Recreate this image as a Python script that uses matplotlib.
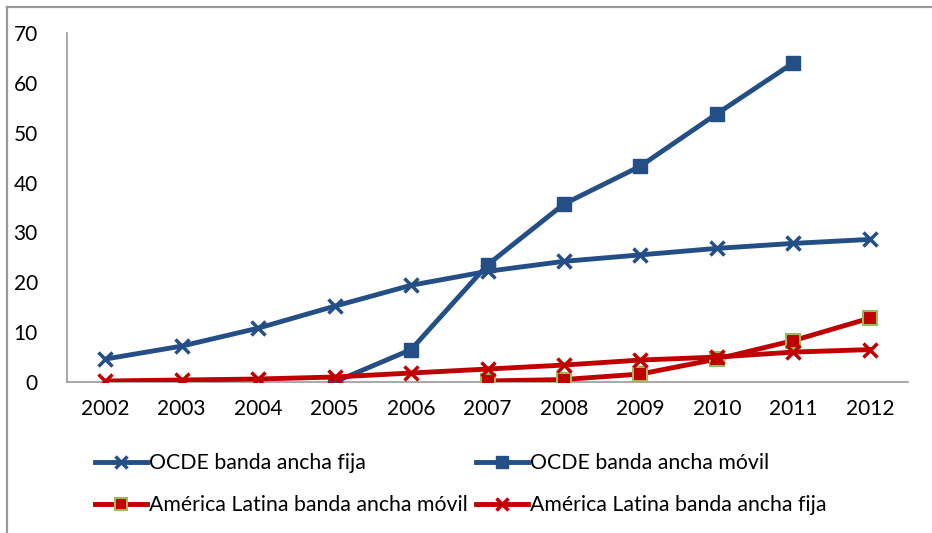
import matplotlib
matplotlib.use("Agg")
import matplotlib.pyplot as plt
from matplotlib.lines import Line2D
import numpy as np

years = [2002, 2003, 2004, 2005, 2006, 2007, 2008, 2009, 2010, 2011, 2012]
ocde_fija = [4.6, 7.2, 10.8, 15.2, 19.4, 22.2, 24.2, 25.5, 26.8, 27.8, 28.6]
ocde_movil_years = [2005, 2006, 2007, 2008, 2009, 2010, 2011]
ocde_movil = [0.0, 6.5, 23.5, 35.7, 43.3, 53.8, 64.0]
al_movil_years = [2007, 2008, 2009, 2010, 2011, 2012]
al_movil = [0.2, 0.5, 1.6, 4.6, 8.3, 12.8]
al_fija = [0.2, 0.4, 0.6, 1.0, 1.8, 2.6, 3.4, 4.4, 5.0, 6.0, 6.5]
yticks = [0, 10, 20, 30, 40, 50, 60, 70]

blue = "#234E86"
red = "#C00000"
green = "#9BBB59"

plt.rcParams['font.family'] = ['Lato', 'DejaVu Sans']

W, H = 932, 533
fig = plt.figure(figsize=(W/100, H/100), dpi=100)
ax = fig.add_axes([67/W, 1-382/H, (908-67)/W, (382-33)/H])

lw = 3.5
l1, = ax.plot(years, ocde_fija, color=blue, lw=lw, marker='x', ms=10, mew=2.5,
              label='OCDE banda ancha fija', zorder=3)
l2, = ax.plot(ocde_movil_years, ocde_movil, color=blue, lw=lw, marker='s', ms=9.5,
              label='OCDE banda ancha móvil', zorder=3)
l3, = ax.plot(al_movil_years, al_movil, color=red, lw=lw, marker='s', ms=9.5,
              mfc=red, mec=green, mew=1.5, label='América Latina banda ancha móvil', zorder=4)
l4, = ax.plot(years, al_fija, color=red, lw=lw, marker='x', ms=10, mew=2.5,
              label='América Latina banda ancha fija', zorder=4)

ax.set_xlim(2001.5, 2012.5)
ax.set_ylim(0, 70)
ax.set_xticks(years)
ax.set_xticklabels([str(y) for y in years])
ax.set_yticks(yticks)
for s in ['top', 'right']:
    ax.spines[s].set_visible(False)
for s in ['left', 'bottom']:
    ax.spines[s].set_color('#999999')
    ax.spines[s].set_linewidth(1.2)
ax.tick_params(axis='both', length=0, labelsize=15, colors='black')
ax.tick_params(axis='y', pad=21)
ax.tick_params(axis='x', pad=12)

fs = 15.3
positions = [(l1, 95, 463), (l2, 476, 463), (l3, 95, 505), (l4, 476, 505)]
for h, x, y in positions:
    lg = fig.legend([h], [h.get_label()], loc='center left',
                    bbox_to_anchor=(x/W, 1-y/H), frameon=False, fontsize=fs,
                    handlelength=2.45, handletextpad=0.1, borderaxespad=0, borderpad=0,
                    markerscale=0.9)

# partial frame (top and left edges visible)
fig.add_artist(Line2D([7/W, 7/W], [0, 1-6.5/H], transform=fig.transFigure,
                      color='#999999', lw=1.6))
fig.add_artist(Line2D([7/W, 1], [1-6.5/H, 1-6.5/H], transform=fig.transFigure,
                      color='#999999', lw=1.6))

fig.savefig('out.png', dpi=100)
